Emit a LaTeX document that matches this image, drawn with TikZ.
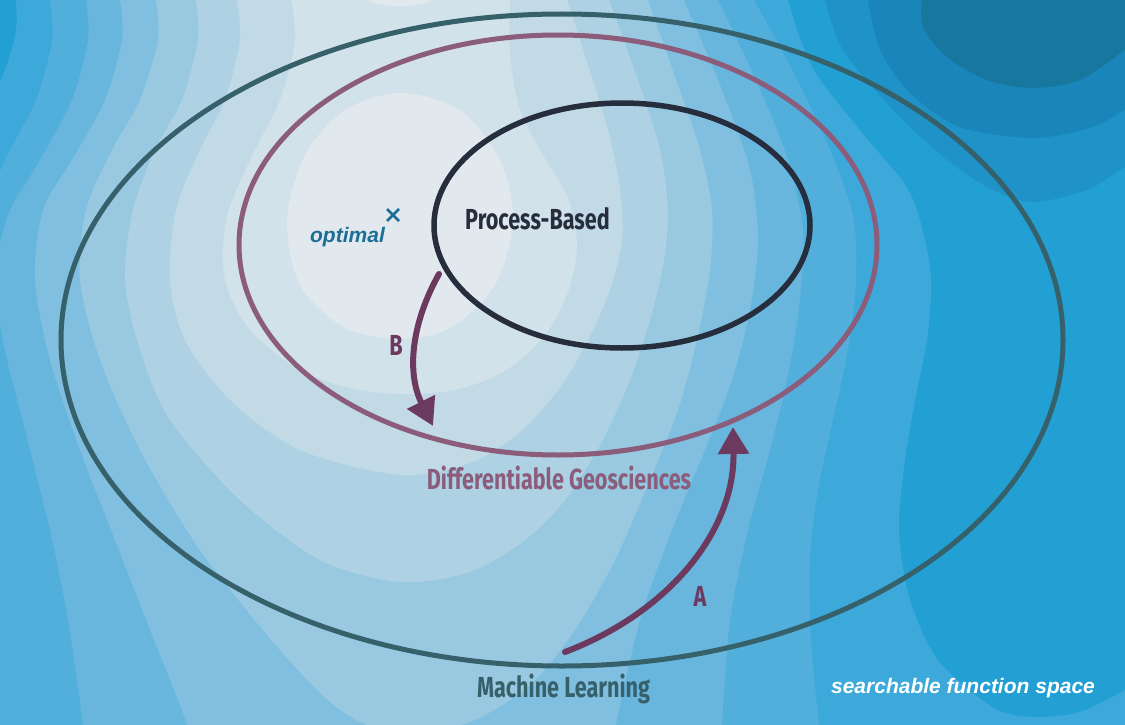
\documentclass[tikz,border=0pt]{standalone}
\usepackage{fontspec}
\usetikzlibrary{arrows.meta,shapes.geometric}
\newfontfamily\labelfont[FakeStretch=0.745]{Fira Sans}
\newfontfamily\helvfont{Liberation Sans}

% contour levels, light to dark
\definecolor{lvA}{HTML}{E2E9EE}
\definecolor{lvB}{HTML}{D2E2EA}
\definecolor{lvC}{HTML}{C1DAE6}
\definecolor{lvD}{HTML}{AED2E4}
\definecolor{lvE}{HTML}{98C9E1}
\definecolor{lvF}{HTML}{80BFDF}
\definecolor{lvG}{HTML}{68B6DD}
\definecolor{lvH}{HTML}{52AEDB}
\definecolor{lvI}{HTML}{3DA8DA}
\definecolor{lvJ}{HTML}{22A0D4}
\definecolor{dkA}{HTML}{1F92C8}
\definecolor{dkB}{HTML}{1A85B8}
\definecolor{dkC}{HTML}{17779F}
% outlines and labels
\definecolor{outerC}{HTML}{36606A}
\definecolor{midC}{HTML}{8B5D7B}
\definecolor{innerC}{HTML}{262D3D}
\definecolor{arrowC}{HTML}{6C3A5E}
\definecolor{optC}{HTML}{1C6E95}

\begin{document}
\begin{tikzpicture}[x=1pt,y=-1pt,
  ring/.style={draw, ellipse, inner sep=0pt, line width=5pt},
  lbl/.style={font=\labelfont\bfseries\fontsize{29}{32}\selectfont, inner sep=0pt, anchor=base},
  letter/.style={font=\labelfont\bfseries\fontsize{29}{32}\selectfont, inner sep=0pt, anchor=base, text=arrowC},
  flow/.style={draw=arrowC, line width=6pt, line cap=round, -{Triangle[length=27pt,width=30pt]}},
  crossmark/.style={draw=optC, line width=2.6pt},
  itlabel/.style={font=\helvfont\bfseries\itshape\fontsize{21}{24}\selectfont, inner sep=0pt, anchor=base}
]
\useasboundingbox (0,0) rectangle (1125,725);

% ---------- contour map of the function space ----------
\begin{scope}
\clip (0,0) rectangle (1125,725);
\fill[lvJ] (-30,-30) rectangle (1160,760);
% dark basin, upper right
\fill[dkA] (825,-30) -- plot[smooth] coordinates {(825,0) (843,50) (893,110) (947,160) (993,190) (1033,202) (1087,190) (1125,167) (1160,150)} -- (1160,-30) -- cycle;
\fill[dkB] (868,-30) -- plot[smooth] coordinates {(868,0) (880,50) (910,93) (960,127) (1033,138) (1093,127) (1125,110) (1160,95)} -- (1160,-30) -- cycle;
\fill[dkC] (922,-30) -- plot[smooth] coordinates {(922,0) (923,27) (947,57) (987,80) (1033,88) (1080,80) (1125,50) (1160,25)} -- (1160,-30) -- cycle;
% rising levels
\fill[lvI] (16,-30) -- plot[smooth] coordinates {(16,0) (16,30) (5,70) (-15,110)} -- (-40,110) -- (-40,770) -- (1170,770) -- (1170,690)
  -- plot[smooth] coordinates {(1125,690) (1080,712) (1032,717) (992,707) (938,660) (910,600) (899,533) (904,467) (915,400) (928,333) (930,267) (910,193) (862,133) (812,67) (788,0)} -- (788,-30) -- cycle;
\fill[lvH] (50,-30) -- plot[smooth] coordinates {(50,0) (52,40) (36,100) (5,160) (-20,220)} -- (-40,220) -- (-40,770) -- (822,770)
  -- plot[smooth] coordinates {(819,725) (811,640) (810,560) (818,490) (833,420) (848,350) (856,280) (853,215) (830,150) (795,75) (754,0)} -- (754,-30) -- cycle;
\fill[lvG] (86,-30) -- plot[smooth] coordinates {(86,0) (88,40) (72,100) (40,160) (8,215) (-5,280) (5,350) (25,430) (50,530) (68,620) (83,725) (86,770)} -- (722,770)
  -- plot[smooth] coordinates {(722,725) (730,620) (748,530) (770,450) (788,375) (800,300) (803,230) (788,160) (758,85) (718,0)} -- (718,-30) -- cycle;
\fill[lvF] (120,-30) -- plot[smooth] coordinates {(120,0) (122,40) (105,100) (72,160) (43,210) (35,280) (50,360) (80,450) (115,540) (150,630) (187,725) (192,770)} -- (612,770)
  -- plot[smooth] coordinates {(616,725) (640,620) (672,530) (705,450) (732,380) (750,310) (758,240) (750,170) (722,90) (684,0)} -- (684,-30) -- cycle;
\fill[lvE] (156,-30) -- plot[smooth] coordinates {(156,0) (158,40) (140,100) (112,150) (86,210) (80,280) (100,360) (140,450) (200,550) (280,650) (340,710) (400,735) (470,722) (530,685) (575,630) (615,560) (650,480) (678,410) (697,340) (710,270) (712,210) (700,150) (678,85) (648,0)} -- (648,-30) -- cycle;
\fill[lvD] (196,-30) -- plot[smooth] coordinates {(196,0) (198,40) (182,100) (155,150) (133,210) (125,280) (140,350) (170,420) (240,500) (320,560) (400,582) (470,572) (525,540) (565,500) (600,445) (628,385) (650,320) (664,260) (668,210) (660,150) (638,80) (609,0)} -- (609,-30) -- cycle;
\fill[lvC] (237,-30) -- plot[smooth] coordinates {(237,0) (240,40) (225,100) (200,150) (176,210) (170,280) (185,340) (230,400) (300,450) (400,475) (470,463) (520,432) (558,390) (588,340) (610,290) (622,240) (620,190) (608,130) (588,65) (567,0)} -- (567,-30) -- cycle;
\fill[lvB] (291,-30) -- plot[smooth] coordinates {(291,0) (295,40) (280,100) (250,160) (226,220) (225,280) (250,330) (300,370) (350,388) (400,394) (455,390) (503,372) (543,338) (568,292) (577,245) (568,198) (543,155) (520,110) (510,55) (510,0)} -- (510,-30) -- cycle;
% highest ground
\fill[lvA] plot[smooth cycle] coordinates {(400,93) (460,110) (500,160) (513,220) (495,285) (450,328) (400,339) (345,328) (300,285) (287,220) (305,155) (345,110)};
\fill[lvA] (400,-8) ellipse [x radius=40pt, y radius=14pt];
\end{scope}

% ---------- nested model families ----------
\node[ring, draw=outerC, minimum width=1002pt, minimum height=652pt] (ml) at (562,340) {};
\node[ring, draw=midC, minimum width=638pt, minimum height=420pt] (dg) at (558,245) {};
\node[ring, draw=innerC, line width=5.5pt, minimum width=376pt, minimum height=245pt] (pb) at (622,225.5) {};

% ---------- labels ----------
\node[lbl, text=innerC] (pbtext) at (537.5,229) {Process-Based};
\node[lbl, text=midC] (dgtext) at (559,489) {Differentiable Geosciences};
\node[lbl, text=outerC] (mltext) at (563.5,697) {Machine Learning};
\node[itlabel, text=optC] (opttext) at (347.5,242) {optimal};
\node[itlabel, text=white] (spacetext) at (963,693) {searchable function space};

% optimum marker
\coordinate (opt) at (393,215);
\draw[crossmark] (opt) +(-6,-6) -- +(6,6) (opt) +(-6,6) -- +(6,-6);

% ---------- transitions ----------
\coordinate (astart) at (565,652);
\coordinate (atip) at (733,427);
\coordinate (bstart) at (439,274);
\coordinate (btip) at (433,426);
\draw[flow] (astart) .. controls (670,612) and (735,530) .. (atip);
\draw[flow] (bstart) .. controls (412,322) and (406,372) .. (btip);
\node[letter] (alabel) at (700,606) {A};
\node[letter] (blabel) at (396,355) {B};
\end{tikzpicture}
\end{document}
